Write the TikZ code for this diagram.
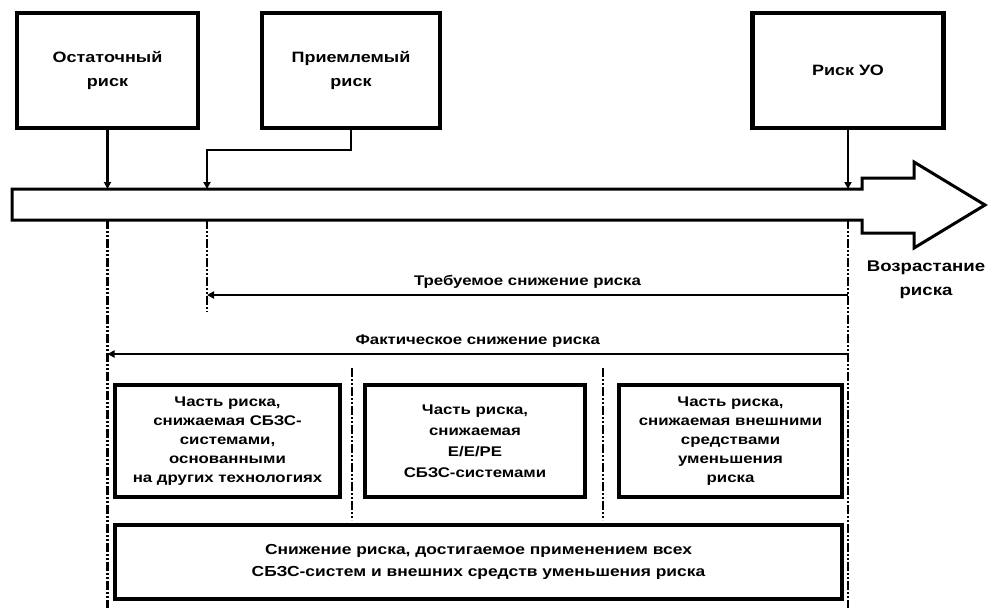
\documentclass[tikz,border=0pt]{standalone}
\usepackage{fontspec}
\setmainfont[FakeStretch=1.2]{Liberation Sans}
\usetikzlibrary{arrows.meta}
\tikzset{
    box/.style={draw, line width=4pt, align=center, inner sep=2pt},
    dashdot/.style={line width=2.5pt, dash pattern=on 9pt off 2pt on 2pt off 2pt on 2pt off 2pt},
    tip/.style={-{Triangle[length=7pt,width=7pt]}, line width=2.5pt},
}

\begin{document}
\begin{tikzpicture}[x=1pt, y=-1pt, font=\bfseries\fontsize{14}{19}\selectfont]
    \useasboundingbox (0,0) rectangle (988,608);

    \node (1) [box, line width=4.5pt, minimum width=181pt, minimum height=115pt, font=\bfseries\fontsize{15}{24}\selectfont] at (107.5,70.5) {Остаточный\\риск};
    \node (2) [box, line width=4.5pt, minimum width=178pt, minimum height=115pt, font=\bfseries\fontsize{15}{24}\selectfont] at (351,70.5) {Приемлемый\\риск};
    \node (3) [box, line width=4.5pt, minimum width=191pt, minimum height=115pt, font=\bfseries\fontsize{15}{24}\selectfont] at (848,70.5) {Риск УО};

    \draw[line width=3pt] (12,189) -- (862,189) -- (862,178) -- (914,178) -- (914,162) -- (985,205)
        -- (914,248) -- (914,233) -- (862,233) -- (862,220) -- (12,220) -- cycle;
    \coordinate (top) at (0,189);
    \coordinate (bot) at (0,220);
    \coordinate (k) at (207,150);
    \coordinate (end) at (0,608);

    \draw[tip] (1.south) -- (1.south |- top);
    \draw[tip] (2.south) |- (k) -- (k |- top);
    \draw[tip] (3.south) -- (3.south |- top);

    \node (up) [align=center, font=\bfseries\fontsize{15.5}{24}\selectfont] at (926,280) {Возрастание\\риска};

    \draw[dashdot] (1.south |- bot) -- (1.south |- end);
    \draw[dashdot] (k |- bot) -- (k |- 0,312);
    \draw[dashdot] (3.south |- bot) -- (3.south |- end);
    \draw[dashdot] (352,368) -- (352,520);
    \draw[dashdot] (603,368) -- (603,520);

    \draw[tip, line width=2pt] (3.south |- 0,295) -- node (req) [above=2pt] {Требуемое снижение риска} (k |- 0,295);
    \draw[tip, line width=2pt] (3.south |- 0,354) -- node (act) [above=2pt] {Фактическое снижение риска} (1.south |- 0,354);

    \node (4) [box, minimum width=225pt, minimum height=112pt] at (227.5,441) {Часть риска,\\снижаемая СБЗС-\\системами,\\основанными\\на других технологиях};
    \node (5) [box, minimum width=220pt, minimum height=112pt, font=\bfseries\fontsize{14}{21}\selectfont] at (475,441) {Часть риска,\\снижаемая\\E/E/PE\\СБЗС-системами};
    \node (6) [box, minimum width=223pt, minimum height=112pt] at (730.5,441) {Часть риска,\\снижаемая внешними\\средствами\\уменьшения\\риска};
    \node (7) [box, line width=3.5pt, minimum width=727pt, minimum height=74pt, font=\bfseries\fontsize{14.5}{22}\selectfont] at (478.5,562) {Снижение риска, достигаемое применением всех\\СБЗС-систем и внешних средств уменьшения риска};
\end{tikzpicture}
\end{document}
